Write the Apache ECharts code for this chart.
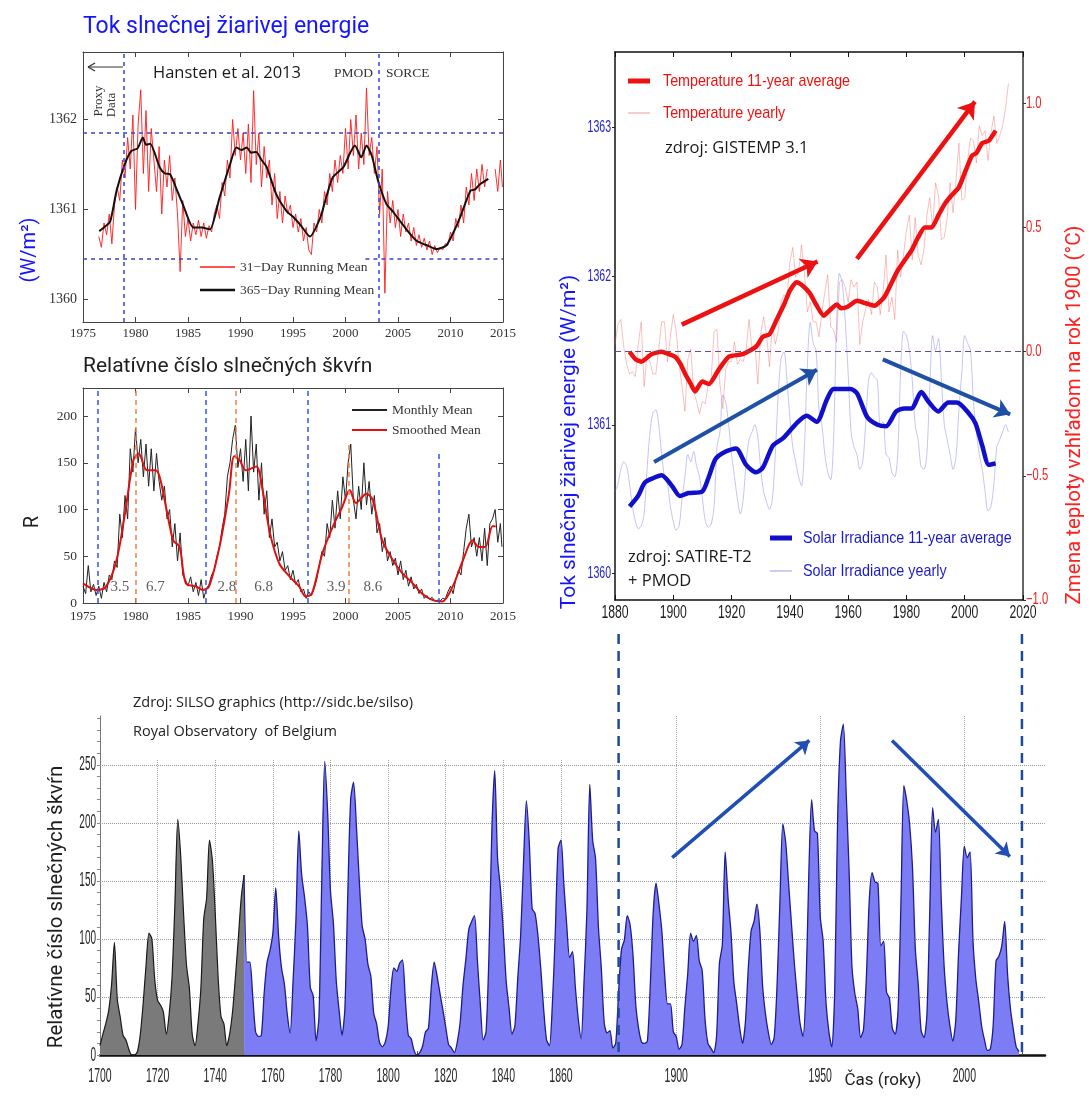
<!DOCTYPE html>
<html>
<head>
<meta charset="utf-8">
<script src="https://cdn.jsdelivr.net/npm/echarts@6/dist/echarts.min.js"></script>
<style>
html,body{margin:0;padding:0;background:#fff;}
#chart{width:1092px;height:1097px;}
</style>
</head>
<body>
<div id="chart"></div>
<script>
// ---------- Total solar irradiance 1976-2015, W/m² ----------
const tsi31Day = [
[1976.50,1360.70],[1976.75,1360.58],[1977.00,1360.85],[1977.25,1360.72],[1977.50,1360.95],[1977.75,1360.62],
[1978.00,1361.05],[1978.25,1361.25],[1978.50,1361.10],[1978.75,1361.55],[1979.00,1361.35],[1979.25,1361.80],
[1979.50,1361.45],[1979.75,1362.05],[1980.00,1361.00],[1980.25,1361.95],[1980.50,1362.33],[1980.75,1361.40],
[1981.00,1362.10],[1981.25,1361.20],[1981.50,1361.90],[1981.75,1361.55],[1982.00,1361.20],[1982.25,1361.70],
[1982.50,1360.95],[1982.75,1361.55],[1983.00,1361.25],[1983.25,1361.60],[1983.50,1361.10],[1983.75,1361.35],
[1984.00,1360.95],[1984.25,1360.31],[1984.50,1361.10],[1984.75,1360.70],[1985.00,1360.90],[1985.25,1360.65],
[1985.50,1360.85],[1985.75,1360.72],[1986.00,1360.88],[1986.25,1360.70],[1986.50,1360.85],[1986.75,1360.68],
[1987.00,1360.82],[1987.25,1360.75],[1987.50,1360.95],[1987.75,1361.05],[1988.00,1360.90],[1988.25,1361.30],
[1988.50,1361.15],[1988.75,1361.55],[1989.00,1361.35],[1989.25,1362.00],[1989.50,1361.60],[1989.75,1361.90],
[1990.00,1361.55],[1990.25,1361.85],[1990.50,1361.40],[1990.75,1361.95],[1991.00,1361.30],[1991.25,1362.32],
[1991.50,1361.50],[1991.75,1361.85],[1992.00,1361.25],[1992.25,1361.70],[1992.50,1361.35],[1992.75,1361.55],
[1993.00,1361.05],[1993.25,1361.40],[1993.50,1360.90],[1993.75,1361.20],[1994.00,1360.85],[1994.25,1361.15],
[1994.50,1360.95],[1994.75,1361.05],[1995.00,1360.80],[1995.25,1360.95],[1995.50,1360.75],[1995.75,1360.90],
[1996.00,1360.65],[1996.25,1360.80],[1996.50,1360.55],[1996.75,1360.50],[1997.00,1360.85],[1997.25,1360.75],
[1997.50,1361.00],[1997.75,1360.85],[1998.00,1361.20],[1998.25,1361.05],[1998.50,1361.40],[1998.75,1361.20],
[1999.00,1361.55],[1999.25,1361.30],[1999.50,1361.60],[1999.75,1361.40],[2000.00,1361.90],[2000.25,1361.45],
[2000.50,1362.00],[2000.75,1361.60],[2001.00,1362.05],[2001.25,1361.45],[2001.50,1361.85],[2001.75,1361.50],
[2002.00,1362.35],[2002.25,1361.60],[2002.50,1361.80],[2002.75,1361.40],[2003.00,1361.70],[2003.25,1360.95],
[2003.50,1361.45],[2003.75,1360.07],[2004.00,1361.20],[2004.25,1360.85],[2004.50,1361.10],[2004.75,1360.80],
[2005.00,1361.00],[2005.25,1360.70],[2005.50,1360.95],[2005.75,1360.75],[2006.00,1360.85],[2006.25,1360.65],
[2006.50,1360.80],[2006.75,1360.60],[2007.00,1360.72],[2007.25,1360.58],[2007.50,1360.68],[2007.75,1360.55],
[2008.00,1360.65],[2008.25,1360.50],[2008.50,1360.60],[2008.75,1360.52],[2009.00,1360.58],[2009.25,1360.55],
[2009.50,1360.62],[2009.75,1360.60],[2010.00,1360.75],[2010.25,1360.65],[2010.50,1360.90],[2010.75,1360.80],
[2011.00,1361.05],[2011.25,1360.85],[2011.50,1361.25],[2011.75,1361.05],[2012.00,1361.40],[2012.25,1361.10],
[2012.50,1361.45],[2012.75,1361.20],[2013.00,1361.50],[2013.25,1361.25],[2013.50,1361.45],[2013.90,null],
[2014.25,1361.45],[2014.50,1361.20],[2014.75,1361.55],[2014.95,1361.25]
];
const tsi365Day = [
[1976.55,1360.76],[1977.0,1360.80],[1977.6,1360.87],[1978.2,1361.21],[1979.0,1361.51],[1979.6,1361.65],
[1980.2,1361.68],[1980.7,1361.80],[1981.0,1361.72],[1981.4,1361.73],[1982.3,1361.47],[1982.8,1361.40],
[1983.3,1361.39],[1984.0,1361.20],[1984.6,1361.03],[1985.5,1360.80],[1986.3,1360.80],[1987.1,1360.78],
[1988.0,1361.13],[1989.0,1361.50],[1989.6,1361.69],[1990.1,1361.66],[1990.6,1361.69],[1991.0,1361.63],
[1991.5,1361.64],[1992.0,1361.55],[1992.5,1361.47],[1993.4,1361.17],[1994.4,1360.98],[1995.0,1360.92],
[1995.7,1360.83],[1996.6,1360.70],[1997.6,1360.91],[1998.2,1361.15],[1998.8,1361.36],[1999.8,1361.47],
[2000.4,1361.62],[2000.9,1361.71],[2001.5,1361.58],[2002.0,1361.71],[2002.5,1361.60],[2003.1,1361.32],
[2003.9,1361.06],[2004.5,1360.98],[2005.2,1360.87],[2006.0,1360.75],[2006.8,1360.65],[2007.8,1360.60],
[2008.7,1360.56],[2009.6,1360.60],[2010.3,1360.75],[2010.9,1360.91],[2011.9,1361.21],[2012.3,1361.22],
[2012.8,1361.28],[2013.6,1361.34]
];
const tsiTicks = [1360, 1361, 1362];
const proxyEndYear = 1978.9;     // end of proxy data
const sorceStartYear = 2003.2;   // PMOD -> SORCE
const tsiBandHigh = 1361.85;
const tsiBandLow = 1360.45;

// ---------- Sunspot number 1975-2015 ----------
const ssnMonthly = [
[1975.00,18],[1975.25,10],[1975.50,40],[1975.75,12],[1976.00,20],[1976.25,8],[1976.50,18],[1976.75,5],
[1977.00,22],[1977.25,12],[1977.50,30],[1977.75,25],[1978.00,45],[1978.25,38],[1978.50,95],[1978.75,70],
[1979.00,115],[1979.25,90],[1979.50,165],[1979.75,140],[1980.00,187],[1980.25,150],[1980.50,175],[1980.75,135],
[1981.00,170],[1981.25,125],[1981.50,165],[1981.75,120],[1982.00,160],[1982.25,130],[1982.50,110],[1982.75,125],
[1983.00,90],[1983.25,100],[1983.50,60],[1983.75,85],[1984.00,45],[1984.25,75],[1984.50,30],[1984.75,25],
[1985.00,18],[1985.25,28],[1985.50,12],[1985.75,22],[1986.00,8],[1986.25,25],[1986.50,5],[1986.75,15],
[1987.00,20],[1987.25,30],[1987.50,35],[1987.75,50],[1988.00,60],[1988.25,80],[1988.50,95],[1988.75,135],
[1989.00,150],[1989.25,175],[1989.50,190],[1989.75,145],[1990.00,165],[1990.25,130],[1990.50,175],[1990.75,120],
[1991.00,200],[1991.25,140],[1991.50,170],[1991.75,110],[1992.00,150],[1992.25,95],[1992.50,120],[1992.75,70],
[1993.00,90],[1993.25,60],[1993.50,65],[1993.75,45],[1994.00,55],[1994.25,35],[1994.50,40],[1994.75,25],
[1995.00,35],[1995.25,20],[1995.50,25],[1995.75,12],[1996.00,15],[1996.25,5],[1996.50,12],[1996.75,8],
[1997.00,15],[1997.25,25],[1997.50,40],[1997.75,55],[1998.00,50],[1998.25,85],[1998.50,70],[1998.75,110],
[1999.00,80],[1999.25,120],[1999.50,90],[1999.75,135],[2000.00,110],[2000.25,150],[2000.50,170],[2000.75,110],
[2001.00,90],[2001.25,125],[2001.50,100],[2001.75,150],[2002.00,105],[2002.25,130],[2002.50,95],[2002.75,115],
[2003.00,75],[2003.25,85],[2003.50,55],[2003.75,70],[2004.00,45],[2004.25,55],[2004.50,40],[2004.75,48],
[2005.00,30],[2005.25,45],[2005.50,25],[2005.75,35],[2006.00,18],[2006.25,28],[2006.50,15],[2006.75,20],
[2007.00,10],[2007.25,15],[2007.50,5],[2007.75,8],[2008.00,4],[2008.25,6],[2008.50,2],[2008.75,3],
[2009.00,2],[2009.25,5],[2009.50,4],[2009.75,12],[2010.00,18],[2010.25,10],[2010.50,25],[2010.75,35],
[2011.00,30],[2011.25,55],[2011.50,80],[2011.75,95],[2012.00,60],[2012.25,70],[2012.50,50],[2012.75,70],
[2013.00,45],[2013.25,80],[2013.50,40],[2013.75,85],[2014.00,90],[2014.25,100],[2014.50,65],[2014.75,85],
[2014.90,60]
];
const ssnSmoothed = [
[1975.0,21],[1976.3,14],[1977.2,17.5],[1978.2,46],[1979.0,96],[1979.8,153],[1980.3,160],[1981.1,142],
[1981.9,142],[1982.3,135],[1982.9,103],[1983.6,67],[1984.2,60],[1984.8,21],[1985.8,17.5],[1986.4,14],
[1987.0,17.5],[1988.0,60],[1988.9,117],[1989.4,157],[1989.9,153],[1990.5,142],[1991.5,146],[1992.1,121],
[1992.8,75],[1993.7,42],[1994.7,28],[1995.6,17.5],[1996.2,7],[1996.8,10],[1997.8,53],[1998.8,82],
[1999.7,103],[2000.4,121],[2001.0,107],[2002.0,117],[2002.6,110],[2003.5,67],[2004.5,46],[2005.4,32],
[2006.4,21],[2007.3,10],[2008.3,3],[2009.2,1.5],[2010.2,17.5],[2011.2,46],[2012.1,67],[2012.7,60],
[2013.3,60],[2014.0,82],[2014.3,82]
];
const cycleMinima = [1976.4, 1986.7, 1996.4, 2008.9];
const cycleMaxima = [1980.0, 1989.5, 2000.3];
const cycleNotes = [[1978.5,17,'3.5'],[1981.9,17,'6.7'],[1988.7,17,'2.8'],[1992.2,17,'6.8'],[1999.1,17,'3.9'],[2002.6,17,'8.6']];
const ssnTicks = [0, 50, 100, 150, 200];

// ---------- Temperature (°C vs 1900) and irradiance 1880-2015 ----------
const tempYearlyStart = 1880;
const tempYearly = [
0.03,0.11,0.13,0.02,-0.05,-0.09,-0.08,-0.10,0.03,0.12,
-0.14,-0.01,-0.04,-0.09,-0.09,0.01,0.12,0.12,-0.04,0.06,
0.15,0.08,-0.05,-0.14,-0.24,-0.03,0.01,-0.16,-0.20,-0.25,
-0.20,-0.21,-0.13,-0.11,0.08,0.09,-0.13,-0.23,-0.07,-0.04,
-0.04,0.04,-0.05,-0.03,-0.04,0.01,0.13,0.01,0.03,-0.13,
0.07,0.14,0.07,-0.06,0.11,0.03,0.08,0.20,0.23,0.21,
0.36,0.42,0.30,0.32,0.43,0.32,0.16,0.20,0.12,0.12,
0.06,0.16,0.24,0.31,0.10,0.09,0.04,0.28,0.29,0.26,
0.20,0.29,0.26,0.28,0.03,0.12,0.17,0.21,0.15,0.28,
0.26,0.15,0.24,0.39,0.16,0.22,0.13,0.41,0.30,0.39,
0.49,0.55,0.37,0.54,0.39,0.35,0.41,0.55,0.62,0.50,
0.68,0.63,0.45,0.46,0.54,0.68,0.56,0.69,0.84,0.61,
0.62,0.77,0.86,0.85,0.76,0.91,0.87,0.89,0.77,0.88,
0.95,0.84,0.87,0.91,0.98,1.08
];
const tempAvg11 = [
[1885.0,0.00],[1887.0,-0.03],[1889.0,-0.04],[1892.5,-0.01],[1896.0,0.00],[1898.5,-0.01],[1900.6,-0.02],
[1902.5,-0.05],[1904.1,-0.09],[1906.0,-0.13],[1907.5,-0.16],[1909.9,-0.12],[1912.2,-0.13],[1915.7,-0.07],
[1919.1,-0.02],[1923.8,-0.01],[1928.4,0.02],[1930.7,0.06],[1933.0,0.07],[1935.3,0.125],[1938.0,0.19],
[1940.0,0.246],[1942.3,0.28],[1944.5,0.265],[1946.9,0.235],[1949.0,0.19],[1951.6,0.145],[1953.5,0.165],
[1956.2,0.19],[1957.5,0.175],[1959.7,0.18],[1963.1,0.205],[1966.0,0.195],[1969.0,0.185],[1972.4,0.22],
[1975.0,0.28],[1977.0,0.327],[1979.5,0.37],[1981.7,0.407],[1984.0,0.46],[1986.3,0.50],[1988.6,0.50],
[1991.0,0.55],[1993.2,0.596],[1995.5,0.63],[1997.9,0.66],[2000.0,0.72],[2002.5,0.79],[2004.0,0.80],
[2006.0,0.84],[2008.3,0.85],[2010.6,0.89]
];
const tsiYearlyStart = 1880;
const tsiYearly = [
1360.55,1360.60,1360.70,1360.75,1360.72,1360.60,1360.45,1360.35,1360.30,1360.32,
1360.40,1360.70,1360.95,1361.08,1361.10,1361.00,1360.80,1360.65,1360.60,1360.45,
1360.35,1360.29,1360.32,1360.50,1360.65,1360.80,1360.75,1360.82,1360.72,1360.65,
1360.50,1360.35,1360.31,1360.33,1360.45,1360.85,1360.95,1361.20,1361.15,1361.00,
1360.80,1360.65,1360.50,1360.40,1360.50,1360.75,1360.90,1360.95,1361.00,1360.92,
1360.70,1360.55,1360.48,1360.43,1360.50,1360.80,1361.20,1361.45,1361.49,1361.30,
1361.05,1360.85,1360.75,1360.65,1360.59,1360.85,1361.40,1361.69,1361.55,1361.50,
1361.10,1361.00,1360.80,1360.68,1360.63,1360.90,1361.65,1362.02,1361.95,1361.70,
1361.35,1360.95,1360.85,1360.80,1360.70,1360.75,1361.00,1361.30,1361.35,1361.32,
1361.30,1361.00,1361.02,1360.80,1360.78,1360.68,1360.65,1360.80,1361.35,1361.63,
1361.60,1361.50,1361.30,1361.00,1360.90,1360.72,1360.70,1360.80,1361.25,1361.60,
1361.50,1361.58,1361.30,1361.00,1360.90,1360.80,1360.70,1360.78,1361.10,1361.35,
1361.60,1361.55,1361.50,1361.15,1360.95,1360.80,1360.70,1360.55,1360.42,1360.45,
1360.60,1360.85,1360.90,1360.95,1361.00,1360.95
];
const tsiAvg11 = [
[1885.0,1360.45],[1887.9,1360.52],[1890.2,1360.61],[1893.0,1360.64],[1896.0,1360.66],[1899.5,1360.59],
[1902.3,1360.52],[1905.2,1360.54],[1909.9,1360.55],[1912.2,1360.65],[1914.5,1360.77],[1918.0,1360.82],
[1921.5,1360.84],[1925.0,1360.73],[1928.4,1360.68],[1930.7,1360.71],[1934.2,1360.86],[1937.7,1360.91],
[1942.3,1361.01],[1945.8,1361.06],[1949.2,1361.02],[1952.7,1361.17],[1955.0,1361.24],[1960.8,1361.24],
[1963.1,1361.21],[1966.6,1361.05],[1970.1,1361.00],[1973.0,1360.99],[1976.5,1361.09],[1979.3,1361.11],
[1981.7,1361.11],[1985.1,1361.22],[1987.4,1361.16],[1990.9,1361.09],[1994.4,1361.15],[1997.3,1361.15],
[2001.3,1361.08],[2003.7,1361.01],[2006.0,1360.86],[2008.3,1360.73],[2010.6,1360.74]
];
const windowYearTicks = [1880, 1900, 1920, 1940, 1960, 1980, 2000, 2020];
const tsiRightTicks = [1360, 1361, 1362, 1363];
const tempTicks = [-1, -0.5, 0, 0.5, 1];
const tempTrendArrows = [[[1902.9,0.109],[1949.5,0.363]], [[1963.0,0.374],[2003.5,1.007]]];
const tsiTrendArrows = [[[1893.4,1360.75],[1949.3,1361.37]], [[1971.9,1361.44],[2015.6,1361.07]]];

// ---------- Sunspot number 1700-2019 ----------
const ssnEarlyStart = 1700;
const ssnEarly = [
8,18,27,38,60,97,48,33,17,13,
5,0,0,3,18,45,78,105,100,65,
47,43,37,18,35,67,130,203,172,122,
78,58,18,8,27,57,117,135,185,168,
122,67,33,27,8,18,37,67,100,135,
155
];
const ssnYearlyStart = 1750;
const ssnYearly = [
155,80,80,51,20,16,17,54,80,90,
105,144,102,75,61,35,19,63,116,193,
155,136,111,58,51,12,33,154,253,210,
141,114,64,38,17,40,138,220,235,197,
150,111,100,78,68,36,27,11,7,11,
24,57,75,72,79,82,47,17,14,4,
0,2,8,20,23,59,80,68,53,39,
24,9,6,2,11,28,60,83,108,115,
120,81,44,13,20,86,193,245,169,143,
106,63,40,18,25,66,103,166,219,183,
126,122,103,74,39,13,8,43,104,178,
185,147,112,84,89,58,31,14,63,124,
233,185,169,110,75,28,19,21,6,10,
54,91,99,120,112,86,42,22,11,10,
12,60,122,148,130,107,69,44,44,20,
16,5,9,41,70,105,98,103,81,73,
31,10,6,2,16,79,95,175,135,106,
63,44,24,10,28,74,107,115,130,108,
59,35,19,9,15,60,133,199,183,148,
113,79,51,27,16,55,154,220,193,191,
119,98,45,20,7,54,201,270,285,225,
159,76,53,40,15,22,67,133,157,149,
148,94,98,54,49,23,18,39,131,232,
219,199,162,91,61,21,15,34,123,213,
192,203,133,76,45,25,12,29,88,136,
180,170,175,99,65,46,25,13,4,5,
25,81,85,94,115,70,40,22,7,3
];
const longYearLabels = [1700,1720,1740,1760,1780,1800,1820,1840,1860,1900,1950,2000];
const longGridYearsEarly = [1720,1740,1760,1780,1800,1820,1840,1860];
const longGridYearsLate = [1900,1950,2000];
const longValueTicks = [0,50,100,150,200,250];
const longTrendArrows = [[[1898.6,170],[1946.2,271]], [[1974.9,271],[2015.8,171]]];
const linkYears = [1880, 2020];

// ---------- fonts & colours ----------
const SERIF = "'Liberation Serif','Times New Roman',serif";
const ARIAL = "'Liberation Sans',Arial,sans-serif";
const SANS = "Roboto,'Noto Sans',sans-serif";
const OPEN = "'Open Sans','Noto Sans',sans-serif";
const BLUE_TITLE = '#1414ff';
const RED_TITLE = '#ff2020';

const yearly = (start, vals) => vals.map((v, i) => [start + i, v]);
const plainNum = v => String(v);

const chart = echarts.init(document.getElementById('chart'), null, {renderer: 'canvas'});

// matlab-style box axes
function boxX(grid, min, max, interval, pos, labels, labelOpts) {
  return {
    gridIndex: grid, type: 'value', min, max, interval, position: pos,
    axisLine: {show: true, onZero: false, lineStyle: {color: '#444', width: 1}},
    axisTick: {show: true, inside: true, length: 5, lineStyle: {color: '#444'}},
    axisLabel: Object.assign({show: labels, fontFamily: SERIF, fontSize: 13, color: '#333', margin: 5, formatter: plainNum}, labelOpts || {}),
    splitLine: {show: false}
  };
}
function boxY(grid, min, max, ticks, pos, labels, labelOpts) {
  return {
    gridIndex: grid, type: 'value', min, max, position: pos,
    axisLine: {show: true, onZero: false, lineStyle: {color: '#444', width: 1}},
    axisTick: {show: true, inside: true, length: 5, customValues: ticks, lineStyle: {color: '#444'}},
    axisLabel: Object.assign({show: labels, customValues: ticks, fontFamily: SERIF, fontSize: 14, color: '#333', margin: 6,
      formatter: plainNum}, labelOpts || {}),
    splitLine: {show: false}
  };
}

const seg = (a, b, color, type, width) => [
  {coord: a, lineStyle: {color, type, width}}, {coord: b}
];

const option = {
  animation: false,
  backgroundColor: '#ffffff',
  grid: [
    {left: 83, top: 52, width: 420, height: 270, show: false},
    {left: 83, top: 388, width: 420, height: 215, show: false},
    {left: 615, top: 52, width: 408, height: 548, show: false},
    {left: 100, top: 716, width: 945, height: 339, show: false}
  ],
  xAxis: [
    boxX(0, 1975, 2015, 5, 'bottom', true),
    boxX(0, 1975, 2015, 5, 'top', false),
    boxX(1, 1975, 2015, 5, 'bottom', true, {margin: 7}),
    boxX(1, 1975, 2015, 5, 'top', false),
    {
      gridIndex: 2, type: 'value', min: 1880, max: 2020, interval: 20, position: 'bottom',
      axisLine: {show: true, onZero: false, lineStyle: {color: '#111', width: 1.5}},
      axisTick: {show: true, inside: true, length: 5, lineStyle: {color: '#111'}},
      axisLabel: {show: false},
      splitLine: {show: false}
    },
    {
      gridIndex: 2, type: 'value', min: 1880, max: 2020, interval: 20, position: 'top',
      axisLine: {show: true, onZero: false, lineStyle: {color: '#111', width: 1.5}},
      axisTick: {show: true, inside: true, length: 5, lineStyle: {color: '#111'}},
      axisLabel: {show: false}, splitLine: {show: false}
    },
    {
      gridIndex: 3, type: 'value', min: 1700, max: 2028, position: 'bottom',
      axisLine: {show: true, onZero: false, lineStyle: {color: '#111', width: 2.5}},
      axisTick: {show: true, inside: true, length: 4,
        customValues: [1700,1710,1720,1730,1740,1750,1760,1770,1780,1790,1800,1810,1820,1830,1840,1850,1860,1870,1880,1890,1900,1910,1920,1930,1940,1950,1960,1970,1980,1990,2000,2010,2020],
        lineStyle: {color: '#555'}},
      axisLabel: {show: false},
      splitLine: {show: false}
    }
  ],
  yAxis: [
    boxY(0, 1359.75, 1362.75, tsiTicks, 'left', true),
    boxY(0, 1359.75, 1362.75, tsiTicks, 'right', false),
    boxY(1, 0, 230, ssnTicks, 'left', true, {fontSize: 13.5}),
    boxY(1, 0, 230, ssnTicks, 'right', false),
    {
      gridIndex: 2, type: 'value', min: 1359.82, max: 1363.51, position: 'left',
      axisLine: {show: true, onZero: false, lineStyle: {color: '#111', width: 1.5}},
      axisTick: {show: true, length: 3, customValues: tsiRightTicks, lineStyle: {color: '#222'}},
      axisLabel: {show: false},
      splitLine: {show: false}
    },
    {
      gridIndex: 2, type: 'value', min: -1, max: 1.207, position: 'right',
      axisLine: {show: true, onZero: false, lineStyle: {color: '#333', width: 1.5}},
      axisTick: {show: true, length: 3, customValues: tempTicks, lineStyle: {color: '#333'}},
      axisLabel: {show: false},
      splitLine: {show: false}
    },
    {
      gridIndex: 3, type: 'value', min: 0, max: 292, position: 'left',
      axisLine: {show: true, onZero: false, lineStyle: {color: '#777', width: 1}},
      axisTick: {show: true, length: 3,
        customValues: [0,10,20,30,40,50,60,70,80,90,100,110,120,130,140,150,160,170,180,190,200,210,220,230,240,250,260,270,280,290],
        lineStyle: {color: '#888'}},
      axisLabel: {show: false},
      splitLine: {show: false}
    }
  ],
  series: [
    // --- irradiance 1976-2015 ---
    {
      name: '31-Day Running Mean', type: 'line', xAxisIndex: 0, yAxisIndex: 0, data: tsi31Day,
      showSymbol: false, connectNulls: false, lineStyle: {color: '#ff1a1a', width: 0.9}, z: 2
    },
    {
      name: '365-Day Running Mean', type: 'line', xAxisIndex: 0, yAxisIndex: 0, data: tsi365Day,
      showSymbol: false, smooth: 0.2, lineStyle: {color: '#111', width: 2}, z: 3,
      markLine: {
        silent: true, symbol: 'none', label: {show: false}, animation: false,
        data: [
          seg([1975, tsiBandHigh], [2015, tsiBandHigh], '#3346cc', [4, 4], 1.5),
          seg([1975, tsiBandLow], [1985.9, tsiBandLow], '#3346cc', [4, 4], 1.5),
          seg([2001.9, tsiBandLow], [2015, tsiBandLow], '#3346cc', [4, 4], 1.5),
          seg([proxyEndYear, 1359.75], [proxyEndYear, 1362.75], '#3346cc', [4, 4], 1.5),
          seg([sorceStartYear, 1359.75], [sorceStartYear, 1362.75], '#3346cc', [4, 4], 1.5)
        ]
      }
    },
    // --- sunspot number 1975-2015 ---
    {
      name: 'Monthly Mean', type: 'line', xAxisIndex: 2, yAxisIndex: 2, data: ssnMonthly,
      showSymbol: false, lineStyle: {color: '#222', width: 1}, z: 2
    },
    {
      name: 'Smoothed Mean', type: 'line', xAxisIndex: 2, yAxisIndex: 2, data: ssnSmoothed,
      showSymbol: false, smooth: 0.3, lineStyle: {color: '#e01010', width: 2}, z: 3,
      markLine: {
        silent: true, symbol: 'none', label: {show: false}, animation: false,
        data: [
          seg([cycleMinima[0], 0], [cycleMinima[0], 230], '#3355ee', [5, 4], 1.5),
          seg([cycleMinima[1], 0], [cycleMinima[1], 230], '#3355ee', [5, 4], 1.5),
          seg([cycleMinima[2], 0], [cycleMinima[2], 230], '#3355ee', [5, 4], 1.5),
          seg([cycleMinima[3], 0], [cycleMinima[3], 162], '#3355ee', [5, 4], 1.5),
          seg([cycleMaxima[0], 0], [cycleMaxima[0], 230], '#f08040', [5, 4], 1.5),
          seg([cycleMaxima[1], 0], [cycleMaxima[1], 230], '#f08040', [5, 4], 1.5),
          seg([cycleMaxima[2], 0], [cycleMaxima[2], 171], '#f08040', [5, 4], 1.5)
        ]
      }
    },
    {
      type: 'scatter', xAxisIndex: 2, yAxisIndex: 2, data: cycleNotes, symbolSize: 0, silent: true, z: 4,
      label: {show: true, position: 'inside', formatter: p => p.value[2], fontFamily: SERIF, fontSize: 15, color: '#333'}
    },
    // --- temperature & irradiance 1880-2015 ---
    {
      name: 'Temperature yearly', type: 'line', xAxisIndex: 4, yAxisIndex: 5, data: yearly(tempYearlyStart, tempYearly),
      showSymbol: false, lineStyle: {color: 'rgba(240,90,90,0.38)', width: 1}, z: 2,
      markLine: {
        silent: true, symbol: 'none', label: {show: false}, animation: false,
        data: [seg([1880, 0], [2020, 0], '#6a4a8a', [6, 4], 1)]
      }
    },
    {
      name: 'Solar Irradiance yearly', type: 'line', xAxisIndex: 4, yAxisIndex: 4, data: yearly(tsiYearlyStart, tsiYearly),
      showSymbol: false, smooth: 0.3, lineStyle: {color: 'rgba(110,110,235,0.40)', width: 1}, z: 2
    },
    {
      name: 'Temperature 11-year average', type: 'line', xAxisIndex: 4, yAxisIndex: 5, data: tempAvg11,
      showSymbol: false, smooth: 0.2, lineStyle: {color: '#ee1111', width: 4.5}, z: 3,
      markLine: {
        silent: true, symbol: ['none', 'arrow'], symbolSize: 16, label: {show: false}, animation: false,
        lineStyle: {color: '#ee1111', width: 4.5, type: 'solid'},
        data: tempTrendArrows.map(a => [{coord: a[0]}, {coord: a[1]}])
      }
    },
    {
      name: 'Solar Irradiance 11-year average', type: 'line', xAxisIndex: 4, yAxisIndex: 4, data: tsiAvg11,
      showSymbol: false, smooth: 0.25, lineStyle: {color: '#1010cc', width: 4.5}, z: 3,
      markLine: {
        silent: true, symbol: ['none', 'arrow'], symbolSize: 15, label: {show: false}, animation: false,
        lineStyle: {color: '#1e50a6', width: 4, type: 'solid'},
        data: tsiTrendArrows.map(a => [{coord: a[0]}, {coord: a[1]}])
      }
    },
    // --- sunspot number 1700-2019 ---
    {
      type: 'line', xAxisIndex: 6, yAxisIndex: 6, data: [[1700, 0]], showSymbol: false,
      lineStyle: {opacity: 0}, silent: true, z: 1,
      markLine: {
        silent: true, symbol: 'none', label: {show: false}, animation: false, z: 1,
        data: [].concat(
          longValueTicks.slice(1).map(v => seg([1700, v], [2028, v], '#9a9a9a', 'dotted', 1)),
          longGridYearsEarly.map(y => seg([y, 0], [y, 255], '#a0a0a0', 'dotted', 1)),
          longGridYearsLate.map(y => seg([y, 0], [y, 292], '#a0a0a0', 'dotted', 1))
        )
      }
    },
    {
      type: 'line', xAxisIndex: 6, yAxisIndex: 6, data: yearly(ssnEarlyStart, ssnEarly),
      showSymbol: false, smooth: 0.25, z: 3,
      lineStyle: {color: '#1a1a1a', width: 1.2},
      areaStyle: {color: '#7a7a7a', opacity: 1}
    },
    {
      type: 'line', xAxisIndex: 6, yAxisIndex: 6, data: yearly(ssnYearlyStart, ssnYearly),
      showSymbol: false, smooth: 0.25, z: 3,
      lineStyle: {color: '#1d1d8c', width: 1.3},
      areaStyle: {color: '#7c7cf4', opacity: 1},
      markLine: {
        silent: true, symbol: ['none', 'arrow'], symbolSize: 13, label: {show: false}, animation: false, z: 6,
        lineStyle: {color: '#1f4fb4', width: 3.5, type: 'solid'},
        data: longTrendArrows.map(a => [{coord: a[0]}, {coord: a[1]}])
      }
    }
  ]
};
chart.setOption(option);

// ---------- texts, legend keys, narrow tick labels, connector lines ----------
function txt(text, x, y, font, fill, extra) {
  const e = {
    type: 'text', x, y, silent: true, z: 50,
    style: {text, font, fill, textAlign: 'left', align: 'left', textVerticalAlign: 'middle', verticalAlign: 'middle'}
  };
  if (extra) {
    if (extra.rotation !== undefined) e.rotation = extra.rotation;
    if (extra.scaleX !== undefined) e.scaleX = extra.scaleX;
    if (extra.align) { e.style.textAlign = extra.align; e.style.align = extra.align; }
  }
  return e;
}
function ln(x1, y1, x2, y2, stroke, width, dash) {
  return {type: 'line', silent: true, z: 50, shape: {x1, y1, x2, y2},
    style: {stroke, lineWidth: width, lineDash: dash || null}};
}
const UP = Math.PI / 2;
const px = (axis, v) => chart.convertToPixel(axis, v);

// condensed tick labels placed through the axes' own scales
function xTickLabels(xAxisIndex, yAxisIndex, yValue, values, offset, font, fill, sx) {
  const y0 = px({yAxisIndex}, yValue) + offset;
  return values.map(v => txt(String(v), px({xAxisIndex}, v), y0, font, fill, {align: 'center', scaleX: sx}));
}
function yTickLabels(yAxisIndex, xAxisIndex, xValue, values, offset, align, fmt, font, fill, sx) {
  const x0 = px({xAxisIndex}, xValue) + offset;
  return values.map(v => txt(fmt(v), x0, px({yAxisIndex}, v), font, fill, {align, scaleX: sx}));
}

const xLinkA = px({xAxisIndex: 6}, linkYears[0]);
const xLinkB = px({xAxisIndex: 6}, linkYears[1]);
const yLinkTop = px({yAxisIndex: 5}, -1) + 34;
const yLinkBottom = px({yAxisIndex: 6}, 0);

const elements = [].concat(
  xTickLabels(4, 5, -1, windowYearTicks, 13, '18px ' + ARIAL, '#1c1c1c', 0.68),
  yTickLabels(4, 4, 1880, tsiRightTicks, -4, 'right', plainNum, '16px ' + ARIAL, '#2424c8', 0.66),
  yTickLabels(5, 4, 2020, tempTicks, 3, 'left', v => v.toFixed(1).replace('-', '\u2212'), '16px ' + ARIAL, '#ee2020', 0.7),
  xTickLabels(6, 6, 0, longYearLabels, 21, '21px ' + ARIAL, '#262626', 0.5),
  yTickLabels(6, 6, 1700, longValueTicks, -4, 'right', plainNum, '20px ' + ARIAL, '#262626', 0.5),
  [
  // panel titles and axis names
  txt('Tok slnečnej žiarivej energie', 83, 27, '23px ' + SANS, BLUE_TITLE),
  txt('Relatívne číslo slnečných škvŕn', 83, 367, '21px ' + SANS, '#1e1e1e'),
  txt('(W/m²)', 30, 250, '20px ' + SANS, BLUE_TITLE, {rotation: UP, align: 'center'}),
  txt('R', 33, 522, '20px ' + SANS, '#1e1e1e', {rotation: UP, align: 'center'}),
  txt('Tok slnečnej žiarivej energie (W/m²)', 570, 442, '21px ' + SANS, BLUE_TITLE, {rotation: UP, align: 'center'}),
  txt('Zmena teploty vzhľadom na rok 1900 (°C)', 1075, 415, '20.5px ' + SANS, RED_TITLE, {rotation: UP, align: 'center'}),
  txt('Relatívne číslo slnečných škvŕn', 57, 907, '20.5px ' + SANS, '#1e1e1e', {rotation: UP, align: 'center'}),
  txt('Čas (roky)', 883, 1081, '17px ' + SANS, '#222', {align: 'center'}),

  // irradiance panel notes
  txt('Hansten et al. 2013', 153, 73, '16.5px ' + OPEN, '#1a1a1a'),
  txt('PMOD', 373, 73, '13.5px ' + SERIF, '#333', {align: 'right'}),
  txt('SORCE', 386, 73, '13.5px ' + SERIF, '#333'),
  txt('Proxy', 99, 101, '13px ' + SERIF, '#333', {rotation: UP, align: 'center'}),
  txt('Data', 112, 105, '13px ' + SERIF, '#333', {rotation: UP, align: 'center'}),
  ln(123, 67, 88, 67, '#333', 1.2),
  ln(88, 67, 95, 63, '#333', 1.2),
  ln(88, 67, 95, 71, '#333', 1.2),
  ln(200, 267, 235, 267, '#ff1a1a', 1.5),
  txt('31\u2212Day Running Mean', 240, 267, '13.5px ' + SERIF, '#333'),
  ln(200, 290, 235, 290, '#111', 2.5),
  txt('365\u2212Day Running Mean', 240, 290, '13.5px ' + SERIF, '#333'),

  // sunspot panel legend
  ln(352, 410, 387, 410, '#222', 2),
  txt('Monthly Mean', 392, 410, '13.5px ' + SERIF, '#333'),
  ln(352, 430, 387, 430, '#e01010', 2.2),
  txt('Smoothed Mean', 392, 430, '13.5px ' + SERIF, '#333'),

  // temperature / irradiance legend and sources
  ln(628, 81, 650, 81, '#ee1111', 5),
  txt('Temperature 11-year average', 663, 81, '17px ' + ARIAL, '#ee1111', {scaleX: 0.84}),
  ln(628, 113, 650, 113, 'rgba(240,90,90,0.5)', 1.2),
  txt('Temperature yearly', 663, 113, '17px ' + ARIAL, '#ee1111', {scaleX: 0.84}),
  txt('zdroj: GISTEMP 3.1', 665, 148, '16.5px ' + OPEN, '#1a1a1a'),
  ln(770, 538, 792, 538, '#1010cc', 5),
  txt('Solar Irradiance 11-year average', 803, 538, '16.5px ' + ARIAL, '#1a1acc', {scaleX: 0.87}),
  ln(770, 571, 792, 571, 'rgba(110,110,235,0.6)', 1.2),
  txt('Solar Irradiance yearly', 803, 571, '16.5px ' + ARIAL, '#1a1acc', {scaleX: 0.87}),
  txt('zdroj: SATIRE-T2', 628, 557, '16.5px ' + OPEN, '#1a1a1a'),
  txt('+ PMOD', 628, 581, '16.5px ' + OPEN, '#1a1a1a'),

  // long record source
  txt('Zdroj: SILSO graphics (http://sidc.be/silso)', 133, 703, '14.5px ' + OPEN, '#222'),
  txt('Royal Observatory  of Belgium', 133, 732, '14.5px ' + OPEN, '#222'),

  // connectors between the 1880-2020 window and the long record
  ln(xLinkA, yLinkTop, xLinkA, yLinkBottom, '#1f4a9c', 2.5, [10, 7]),
  ln(xLinkB, yLinkTop, xLinkB, yLinkBottom, '#1f4a9c', 2.5, [10, 7])
  ]
);

chart.setOption({graphic: {elements}});
</script>
</body>
</html>
